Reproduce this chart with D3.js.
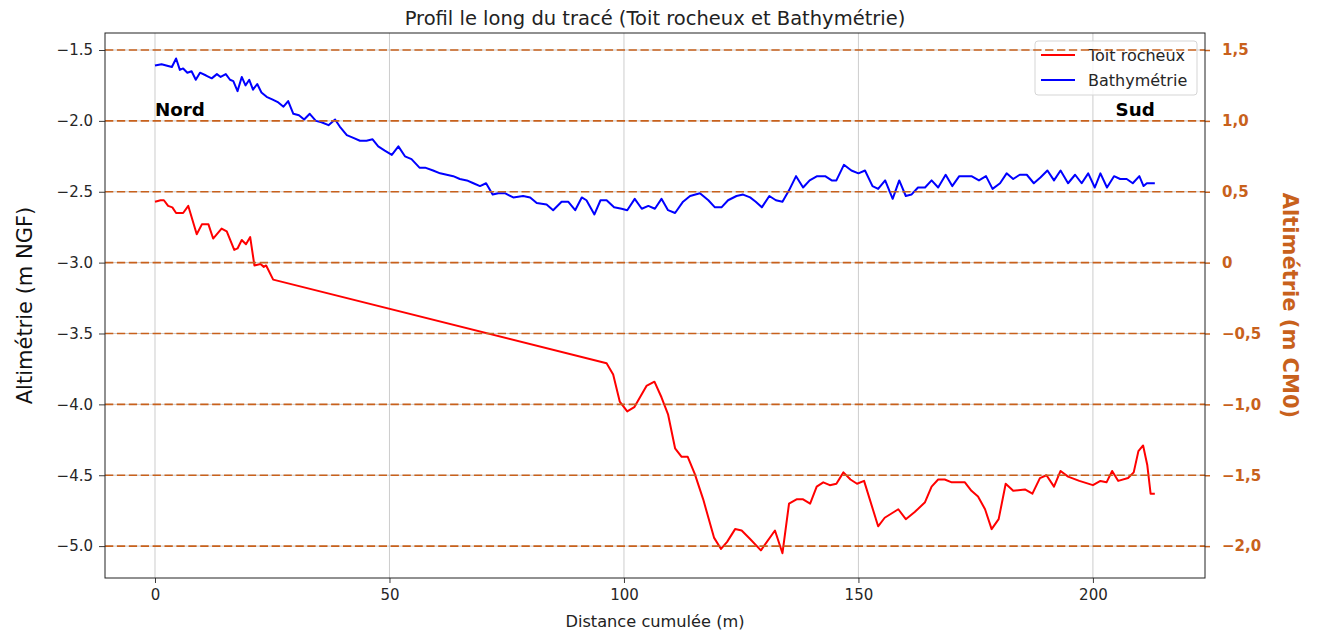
<!DOCTYPE html>
<html><head><meta charset="utf-8">
<script src="https://cdn.jsdelivr.net/npm/d3@7/dist/d3.min.js"></script>
<style>body{margin:0;background:#fff;} text{font-family:"DejaVu Sans",sans-serif;}</style>
</head><body><svg id="c" width="1317" height="634"></svg>
<script>
const bathyDist = [0,1.4,3.6,4.5,5.3,6.0,6.9,7.8,8.7,9.6,10.9,12.1,13.2,14.0,15.1,16.0,16.7,17.6,18.5,19.3,20.1,20.9,21.8,22.7,23.8,25.1,26.3,27.4,28.4,29.5,30.7,31.8,33.0,34.3,35.5,37.0,38.4,39.4,40.9,42.3,43.7,45.1,46.4,47.6,49.0,50.5,51.9,53.3,54.7,56.4,57.6,59.3,60.8,62.2,63.6,65.0,66.5,67.9,69.3,70.6,72.0,73.2,74.6,76.4,78.5,80.0,81.4,83.5,84.9,86.7,88.1,89.6,91.0,92.0,93.7,95.0,96.3,97.9,99.5,100.7,102.3,103.8,105.2,106.6,108.0,109.4,110.9,112.6,114.1,116.2,118.0,119.4,120.8,122.2,124.0,125.4,126.9,128.1,129.4,131.0,132.4,133.8,135.2,136.7,138.2,139.6,141.2,142.9,144.3,145.3,146.9,148.5,150.0,151.4,153.0,154.2,155.7,157.3,158.7,160.1,161.3,162.7,164.2,165.6,167.0,168.6,170.0,171.5,174.1,175.7,177.2,178.6,180.2,181.6,183.0,184.4,185.9,187.4,188.8,190.3,191.7,193.1,194.7,196.2,197.6,199.0,200.4,201.6,203.0,204.5,205.8,207.2,208.5,209.9,210.8,211.5,213.2];
const bathyAlt = [-1.61,-1.60,-1.62,-1.56,-1.64,-1.63,-1.66,-1.65,-1.71,-1.66,-1.68,-1.70,-1.67,-1.69,-1.67,-1.71,-1.72,-1.79,-1.69,-1.75,-1.71,-1.78,-1.74,-1.80,-1.83,-1.85,-1.87,-1.90,-1.86,-1.95,-1.96,-1.99,-1.95,-2.00,-2.01,-2.03,-1.99,-2.04,-2.10,-2.12,-2.14,-2.14,-2.13,-2.18,-2.21,-2.24,-2.18,-2.25,-2.27,-2.33,-2.33,-2.35,-2.37,-2.38,-2.39,-2.41,-2.42,-2.44,-2.46,-2.44,-2.52,-2.51,-2.51,-2.54,-2.53,-2.54,-2.58,-2.59,-2.63,-2.57,-2.57,-2.63,-2.54,-2.56,-2.66,-2.56,-2.56,-2.61,-2.62,-2.63,-2.55,-2.62,-2.60,-2.62,-2.55,-2.63,-2.65,-2.57,-2.53,-2.51,-2.56,-2.61,-2.61,-2.56,-2.53,-2.52,-2.54,-2.57,-2.61,-2.53,-2.56,-2.57,-2.49,-2.39,-2.47,-2.42,-2.39,-2.39,-2.42,-2.42,-2.31,-2.35,-2.37,-2.35,-2.46,-2.48,-2.42,-2.55,-2.42,-2.53,-2.52,-2.47,-2.47,-2.42,-2.47,-2.38,-2.46,-2.39,-2.39,-2.42,-2.39,-2.48,-2.44,-2.37,-2.41,-2.38,-2.38,-2.44,-2.40,-2.35,-2.42,-2.35,-2.44,-2.38,-2.44,-2.37,-2.47,-2.37,-2.47,-2.39,-2.41,-2.41,-2.44,-2.39,-2.46,-2.44,-2.44];
const rockDist = [0,1.2,1.9,2.8,3.7,4.5,6.0,7.1,8.9,10.0,11.4,12.4,14.2,15.3,16.9,17.6,18.5,19.4,20.3,21.2,22.5,23.2,23.7,25.2,96.3,97.7,99.1,100.7,102.2,104.8,106.5,108.0,109.4,110.9,112.3,113.6,115.1,116.9,119.2,120.7,122.0,123.7,125.1,126.9,129.2,132.2,133.8,135.2,136.8,138.2,139.7,141.1,142.5,143.9,145.3,146.8,148.3,149.7,151.2,154.2,155.6,158.5,160.1,162.0,164.2,165.6,167.0,168.4,169.9,172.7,174.1,175.5,177.0,178.4,179.9,181.4,183.0,185.5,187.1,188.7,190.1,191.7,193.1,194.7,197.1,200.0,201.6,202.9,204.1,205.4,207.5,208.7,209.7,210.7,211.6,212.3,213.2];
const rockAlt = [-2.57,-2.56,-2.56,-2.60,-2.61,-2.65,-2.65,-2.60,-2.80,-2.73,-2.73,-2.83,-2.76,-2.78,-2.91,-2.90,-2.84,-2.87,-2.82,-3.02,-3.01,-3.03,-3.02,-3.12,-3.71,-3.79,-3.98,-4.05,-4.02,-3.87,-3.84,-3.95,-4.07,-4.31,-4.37,-4.37,-4.49,-4.67,-4.94,-5.02,-4.97,-4.88,-4.89,-4.95,-5.03,-4.89,-5.05,-4.70,-4.67,-4.67,-4.70,-4.58,-4.55,-4.57,-4.56,-4.48,-4.53,-4.56,-4.54,-4.86,-4.80,-4.74,-4.81,-4.76,-4.69,-4.58,-4.53,-4.53,-4.55,-4.55,-4.61,-4.65,-4.74,-4.88,-4.81,-4.56,-4.61,-4.60,-4.63,-4.52,-4.50,-4.58,-4.47,-4.51,-4.54,-4.57,-4.54,-4.55,-4.47,-4.54,-4.52,-4.48,-4.33,-4.29,-4.43,-4.63,-4.63];
const xTicks = [0,50,100,150,200];
const yTicksNGF = [-1.5,-2.0,-2.5,-3.0,-3.5,-4.0,-4.5,-5.0];
const yTicksCM0 = [1.5,1.0,0.5,0,-0.5,-1.0,-1.5,-2.0];
const cm0Offset = 3.0;
const seriesNames = ["Toit rocheux","Bathymétrie"];

const svg = d3.select("#c");
const L=105, T=33, W=1100, H=545;
const x = d3.scaleLinear().domain([-10.66,223.9]).range([L,L+W]);
const y = d3.scaleLinear().domain([-5.225,-1.38]).range([T+H,T]);
const y2 = d3.scaleLinear().domain([-5.225+cm0Offset,-1.38+cm0Offset]).range([T+H,T]);
const orange = "#c8611c";

// grid
const g = svg.append("g");
g.selectAll(".vg").data(xTicks).join("line").attr("x1",d=>x(d)).attr("x2",d=>x(d)).attr("y1",T).attr("y2",T+H).attr("stroke","#b0b0b0").attr("stroke-width",0.8).attr("stroke-opacity",0.8);
g.selectAll(".hg").data(yTicksNGF).join("line").attr("x1",L).attr("x2",L+W).attr("y1",d=>y(d)).attr("y2",d=>y(d)).attr("stroke","#b0b0b0").attr("stroke-width",0.8).attr("stroke-opacity",0.8);

// lines
const line = d3.line().x(d=>x(d[0])).y(d=>y(d[1]));
svg.append("path").datum(rockDist.map((d,i)=>[d,rockAlt[i]])).attr("d",line).attr("fill","none").attr("stroke","#ff0000").attr("stroke-width",2).attr("stroke-linejoin","round");
svg.append("path").datum(bathyDist.map((d,i)=>[d,bathyAlt[i]])).attr("d",line).attr("fill","none").attr("stroke","#0000ff").attr("stroke-width",2).attr("stroke-linejoin","round");

// axes
const xa = svg.append("g").attr("transform",`translate(0,${T+H})`).call(d3.axisBottom(x).tickValues(xTicks).tickSize(5).tickPadding(6).tickFormat(d3.format("d")));
const ya = svg.append("g").attr("transform",`translate(${L},0)`).call(d3.axisLeft(y).tickValues(yTicksNGF).tickSize(6).tickPadding(6).tickFormat(d=>d3.format(".1f")(d).replace("-","−")));
[xa,ya].forEach(a=>{a.select(".domain").remove();a.selectAll("text").attr("font-size",15).attr("fill","#262626").attr("font-family","DejaVu Sans");a.selectAll("line").attr("stroke","#262626").attr("stroke-width",0.9);});

// Nord / Sud
svg.append("text").attr("x",x(0)).attr("y",y(-1.965)).attr("font-weight","bold").attr("font-size",18.3).text("Nord");
svg.append("text").attr("x",x(213.2)).attr("y",y(-1.965)).attr("text-anchor","end").attr("font-weight","bold").attr("font-size",18.3).text("Sud");

// legend
const lg = svg.append("g");
lg.append("rect").attr("x",1035).attr("y",41).attr("width",162).attr("height",54).attr("rx",3).attr("fill","#fff").attr("fill-opacity",0.8).attr("stroke","#d5d5d5");
[["#ff0000",seriesNames[0],55],["#0000ff",seriesNames[1],80]].forEach(([c,t,yy])=>{
  lg.append("line").attr("x1",1041).attr("x2",1075).attr("y1",yy).attr("y2",yy).attr("stroke",c).attr("stroke-width",2);
  lg.append("text").attr("x",1088).attr("y",yy+6).attr("font-size",16).attr("fill","#262626").text(t);
});

// dashed CM0 lines + right axis
svg.append("g").selectAll("line").data(yTicksCM0).join("line").attr("x1",L).attr("x2",L+W).attr("y1",d=>y2(d)).attr("y2",d=>y2(d)).attr("stroke",orange).attr("stroke-width",1.6).attr("stroke-dasharray","8.3,3.6");
const ra = svg.append("g").attr("transform",`translate(${L+W},0)`).call(d3.axisRight(y2).tickValues(yTicksCM0).tickSize(5).tickPadding(12).tickFormat(d=>d===0?"0":d3.format(".1f")(d).replace(".",",")));
ra.select(".domain").remove();
ra.selectAll("line").attr("stroke",orange).attr("stroke-width",1.5);
ra.selectAll("text").attr("fill",orange).attr("font-size",15).attr("font-weight","bold").attr("font-family","Open Sans");

// frame
svg.append("rect").attr("x",L).attr("y",T).attr("width",W).attr("height",H).attr("fill","none").attr("stroke","#222").attr("stroke-width",1);

// titles
svg.append("text").attr("x",L+W/2).attr("y",25).attr("text-anchor","middle").attr("font-size",19.5).attr("fill","#222").text("Profil le long du tracé (Toit rocheux et Bathymétrie)");
svg.append("text").attr("x",L+W/2).attr("y",627).attr("text-anchor","middle").attr("font-size",16.2).attr("fill","#222").text("Distance cumulée (m)");
svg.append("text").attr("transform",`translate(32,${T+H/2}) rotate(-90)`).attr("text-anchor","middle").attr("font-size",21).attr("font-family","Open Sans").attr("fill","#111").text("Altimétrie (m NGF)");
svg.append("text").attr("transform",`translate(1283,${T+H/2}) rotate(90)`).attr("text-anchor","middle").attr("font-size",21).attr("font-weight","bold").attr("font-family","Open Sans").attr("fill",orange).text("Altimétrie (m CM0)");
</script></body></html>
